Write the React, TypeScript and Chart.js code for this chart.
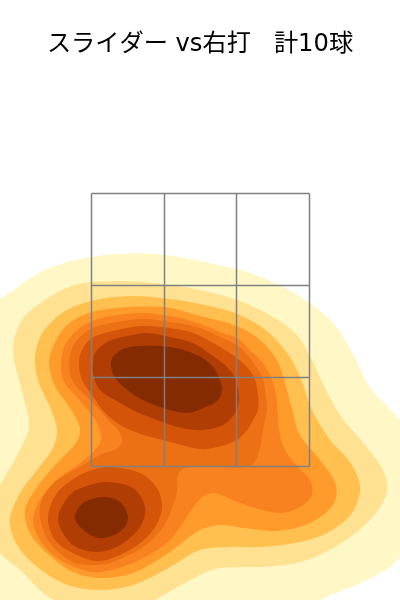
import React, { useEffect, useRef } from "react";
import { Chart, registerables } from "chart.js";

Chart.register(...registerables);

const titleText = "スライダー vs右打   計10球";

// Horizontal offset from the plate centre, and height: the scale's own units.
const zoneX = [-108.5, -35.5, 36.5, 109.5];
const zoneY = [406.5, 314.5, 222.5, 133.5];

const level1 = [[[-200,300],[-165,325],[-125,340],[-80,346],[-35,345],[10,337],[50,327],[85,312],[115,293],[135,275],[152,248],[170,213],[200,180],[235,130],[200,43],[167,20],[120,0],[0,-60],[-260,-40],[-260,260]]];
const level2 = [[[-187,250],[-178,280],[-155,300],[-125,315],[-85,319],[-45,317],[0,310],[40,299],[75,282],[97,265],[112,240],[125,212],[140,185],[165,155],[183,130],[187,108],[170,80],[135,53],[100,38],[60,33],[20,32],[0,25],[-33,7],[-60,-8],[-105,-15],[-150,2],[-180,30],[-200,47],[-220,80],[-200,115],[-180,150],[-171,175],[-177,205]]];
const level3 = [[[-165,243],[-157,268],[-133,290],[-100,301],[-65,304],[-30,301],[5,295],[40,285],[68,268],[90,243],[102,218],[112,190],[130,160],[150,138],[160,113],[152,87],[127,67],[95,57],[60,53],[30,53],[0,50],[-35,30],[-70,14],[-103,10],[-135,16],[-165,35],[-184,57],[-190,80],[-180,107],[-163,130],[-147,152],[-143,170],[-150,193],[-161,217]]];
const level4 = [[[-151,237],[-147,253],[-133,275],[-108,288],[-70,293],[-35,293],[0,284],[37,274],[60,260],[77,240],[85,217],[91,195],[100,165],[120,140],[136,115],[133,95],[110,77],[77,69],[45,72],[20,75],[0,70],[-33,46],[-67,27],[-100,22],[-127,28],[-153,47],[-170,67],[-175,90],[-163,113],[-143,137],[-124,157],[-120,172],[-130,192],[-145,214]]];
const level5 = [[[-139,237],[-136,253],[-125,268],[-108,279],[-83,285],[-57,287],[-30,284],[-5,278],[20,268],[37,262],[50,250],[62,238],[71,223],[76,205],[78,185],[79,170],[85,150],[98,133],[110,120],[112,105],[100,93],[80,87],[55,92],[33,100],[13,107],[0,101],[-20,73],[-33,57],[-67,37],[-100,28],[-120,31],[-143,42],[-160,60],[-167,80],[-160,100],[-143,120],[-120,137],[-105,150],[-99,160],[-102,175],[-112,190],[-125,205],[-137,220]]];
const level6 = [[[-108,272],[-83,278],[-57,281],[-30,278],[-3,273],[20,263],[37,255],[50,242],[62,223],[66,203],[67,190],[63,170],[58,145],[50,134],[20,133],[-15,132],[-22,125],[-23,110],[-25,100],[-37,73],[-57,53],[-87,38],[-103,35],[-127,38],[-150,57],[-160,83],[-157,103],[-143,120],[-120,133],[-100,145],[-82,152],[-78,160],[-82,170],[-90,178],[-102,192],[-115,205],[-128,220],[-131,237],[-128,252],[-120,263]]];
const level7 = [
  [[-121,237],[-118,250],[-108,262],[-83,270],[-57,274],[-30,272],[-7,267],[13,257],[33,245],[45,235],[54,223],[58,205],[58,190],[53,180],[47,170],[37,160],[17,153],[0,151],[-30,158],[-70,170],[-93,185],[-108,205],[-118,220]],
  [[-87,133],[-60,127],[-43,112],[-38,92],[-47,70],[-67,52],[-100,39],[-127,47],[-145,60],[-152,82],[-143,107],[-120,125],[-100,132]],
];
const level8 = [
  [[-107,237],[-105,247],[-93,258],[-73,264],[-53,267],[-30,263],[-7,257],[17,241],[31,229],[37,215],[39,200],[35,187],[23,175],[3,170],[-13,171],[-35,177],[-63,188],[-80,197],[-100,210],[-107,227]],
  [[-93,118],[-67,112],[-55,93],[-60,73],[-80,55],[-103,48],[-127,55],[-140,73],[-141,87],[-128,107],[-110,115]],
];
const level9 = [
  [[-89,235],[-87,243],[-77,251],[-60,254],[-30,253],[-3,245],[13,233],[22,213],[18,200],[3,192],[-13,187],[-30,190],[-53,198],[-70,208],[-85,222]],
  [[-97,103],[-80,98],[-72,83],[-78,70],[-97,62],[-113,67],[-125,82],[-117,97]],
];

const levels = [level1, level2, level3, level4, level5, level6, level7, level8, level9];
const levelColors = ["#FFF8C6", "#FFE192", "#FFC04F", "#FF9B2B", "#F8821F", "#EC7014", "#D45509", "#B03D04", "#842B02"];

export default function App() {
  const ref = useRef<HTMLCanvasElement | null>(null);

  useEffect(() => {
    document.body.style.margin = "0";
    document.body.style.background = "#ffffff";
    if (!ref.current) return;

    const zoneLines: any[] = [];
    const gridLine = (pts: { x: number; y: number }[]) => ({
      type: "line",
      data: pts,
      borderColor: "#808080",
      borderWidth: 1.5,
      pointRadius: 0,
      fill: false,
      tension: 0,
    });
    zoneX.forEach((x) => zoneLines.push(gridLine([{ x, y: zoneY[0] }, { x, y: zoneY[3] }])));
    zoneY.forEach((y) => zoneLines.push(gridLine([{ x: zoneX[0], y }, { x: zoneX[3], y }])));

    // Index 0 is painted last, so the deepest levels come first.
    const bands: any[] = [];
    for (let i = levels.length - 1; i >= 0; i--) {
      levels[i].forEach((ring) => {
        // Overlap the ends of the ring so the spline has no seam.
        const closed = [ring[ring.length - 1], ...ring, ring[0], ring[1]];
        bands.push({
          type: "line",
          data: closed.map(([x, y]) => ({ x, y })),
          backgroundColor: levelColors[i],
          borderColor: levelColors[i],
          borderWidth: 0,
          pointRadius: 0,
          fill: "shape",
          tension: 0.33,
          capBezierPoints: false,
        });
      });
    }

    const chart = new Chart(ref.current, {
      type: "scatter",
      data: { datasets: [...zoneLines, ...bands] },
      options: {
        animation: false,
        responsive: false,
        layout: { padding: 0 },
        plugins: {
          legend: { display: false },
          tooltip: { enabled: false },
          title: {
            display: true,
            text: titleText,
            color: "#000000",
            font: { family: '"DejaVu Sans", "Noto Sans CJK JP", sans-serif', size: 24.2, weight: "normal" },
            padding: { top: 30, bottom: 21 },
          },
        },
        scales: {
          x: { type: "linear", display: false, min: -200, max: 200 },
          y: { type: "linear", display: false, min: 0, max: 520 },
        },
      },
    } as any);
    return () => chart.destroy();
  }, []);

  return <canvas ref={ref} width={400} height={600} style={{ display: "block" }} />;
}
